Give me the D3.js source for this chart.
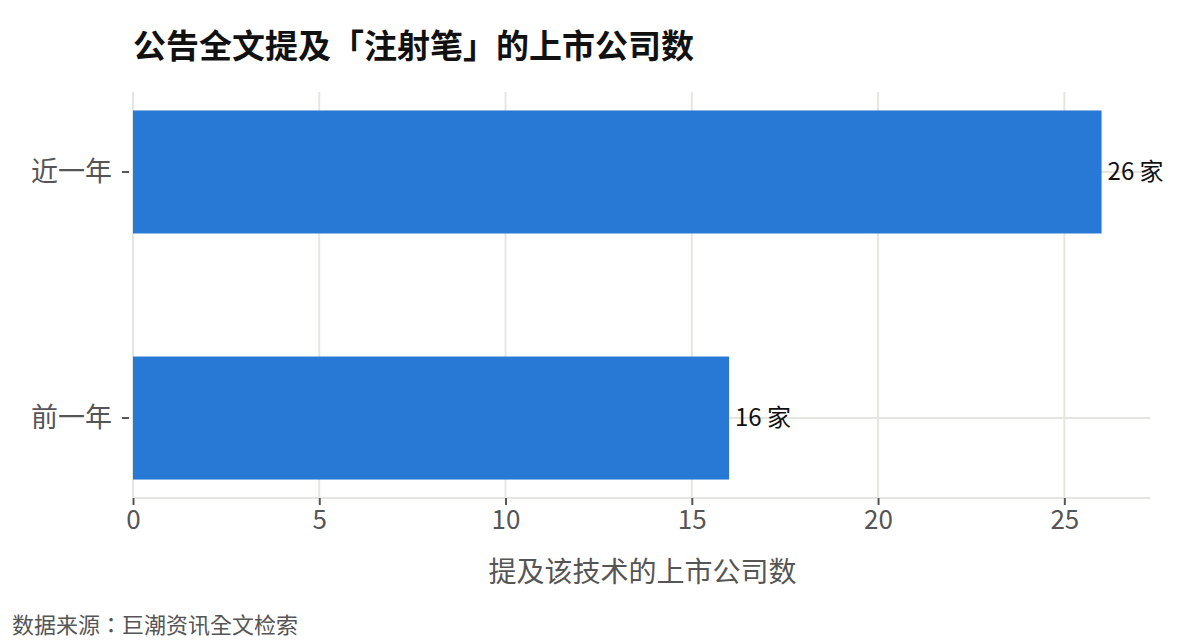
<!DOCTYPE html>
<html>
<head>
<meta charset="utf-8">
<script src="https://cdn.jsdelivr.net/npm/d3@7"></script>
<style>
  body { margin: 0; background: #fff; }
  text { font-family: "Noto Sans CJK SC", "Noto Sans", sans-serif; }
</style>
</head>
<body>
<div id="chart"></div>
<script>
// data
const categories = ["近一年", "前一年"];
const companyCounts = [26, 16];
const xTicks = [0, 5, 10, 15, 20, 25];

const W = 1200, H = 640;
const plot = { left: 133, right: 1150, top: 92, bottom: 498 };

const svg = d3.select("#chart").append("svg")
  .attr("width", W).attr("height", H);

const x = d3.scaleLinear()
  .domain([0, d3.max(companyCounts) * 1.05])
  .range([plot.left, plot.right]);

const y = d3.scaleBand()
  .domain(categories)
  .range([plot.top, plot.bottom])
  .paddingInner(0.5)
  .paddingOuter(0.075);

const grid = "#e6e6e1";

// vertical grid
svg.append("g").selectAll("line")
  .data(xTicks).enter().append("line")
  .attr("x1", d => x(d)).attr("x2", d => x(d))
  .attr("y1", plot.top).attr("y2", plot.bottom)
  .attr("stroke", grid).attr("stroke-width", 2);

// horizontal grid at category centres
svg.append("g").selectAll("line")
  .data(categories).enter().append("line")
  .attr("x1", plot.left).attr("x2", plot.right)
  .attr("y1", d => y(d) + y.bandwidth() / 2)
  .attr("y2", d => y(d) + y.bandwidth() / 2)
  .attr("stroke", grid).attr("stroke-width", 2);

// bottom axis line
svg.append("line")
  .attr("x1", plot.left).attr("x2", plot.right)
  .attr("y1", plot.bottom).attr("y2", plot.bottom)
  .attr("stroke", grid).attr("stroke-width", 2);

// bars
svg.append("g").selectAll("rect")
  .data(categories).enter().append("rect")
  .attr("x", x(0))
  .attr("y", d => y(d))
  .attr("width", (d, i) => x(companyCounts[i]) - x(0))
  .attr("height", y.bandwidth())
  .attr("fill", "#2878d6");

// value labels
svg.append("g").selectAll("text")
  .data(categories).enter().append("text")
  .attr("x", (d, i) => x(companyCounts[i]) + 6)
  .attr("y", d => y(d) + y.bandwidth() / 2)
  .attr("dy", "0.35em")
  .style("font-size", "24px")
  .style("fill", "#111")
  .text((d, i) => companyCounts[i] + " 家");

// x axis
const xAxis = svg.append("g")
  .attr("transform", `translate(0,${plot.bottom})`)
  .call(d3.axisBottom(x).tickValues(xTicks).tickSize(7).tickPadding(6));
xAxis.select(".domain").remove();
xAxis.selectAll(".tick line").attr("stroke", "#555").attr("stroke-width", 2);
xAxis.selectAll(".tick text")
  .style("font-size", "26px").style("fill", "#555")
  .style("font-family", "\"Noto Sans CJK SC\", sans-serif");

// y axis
const yAxis = svg.append("g")
  .attr("transform", `translate(${plot.left - 4},0)`)
  .call(d3.axisLeft(y).tickSize(7).tickPadding(10));
yAxis.select(".domain").remove();
yAxis.selectAll(".tick line").attr("stroke", "#555").attr("stroke-width", 2);
yAxis.selectAll(".tick text")
  .style("font-size", "27px").style("fill", "#555")
  .style("font-family", "\"Noto Sans CJK SC\", sans-serif");

// axis title
svg.append("text")
  .attr("x", (plot.left + plot.right) / 2 + 1)
  .attr("y", 582)
  .attr("text-anchor", "middle")
  .style("font-size", "28px").style("fill", "#555")
  .text("提及该技术的上市公司数");

// title
svg.append("text")
  .attr("x", 133).attr("y", 58)
  .style("font-size", "33px").style("font-weight", "bold").style("fill", "#111")
  .text("公告全文提及「注射笔」的上市公司数");

// source (TC face keeps the full-width colon centred)
svg.append("text")
  .attr("x", 12).attr("y", 633)
  .style("font-size", "22px").style("fill", "#555")
  .style("font-family", "\"Noto Sans CJK TC\", \"Noto Sans CJK SC\", sans-serif")
  .text("数据来源：巨潮资讯全文检索");
</script>
</body>
</html>
